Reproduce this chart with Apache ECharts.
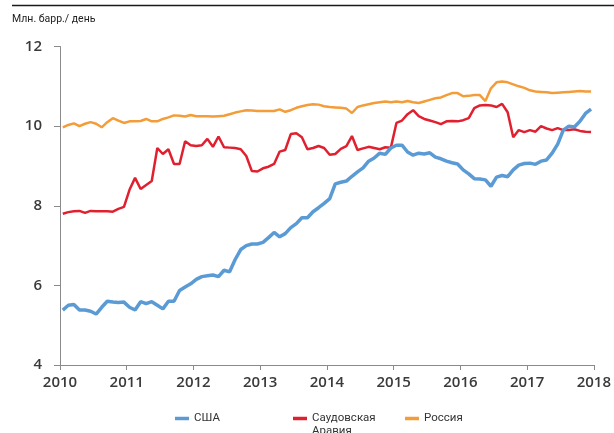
<!DOCTYPE html>
<html>
<head>
<meta charset="utf-8">
<script src="https://cdn.jsdelivr.net/npm/echarts@6/dist/echarts.min.js"></script>
<style>
  html, body { margin: 0; padding: 0; background: #fff; }
  #chart { width: 614px; height: 433px; }
</style>
</head>
<body>
<div id="chart"></div>
<script>
// monthly data, Jan 2010 - Dec 2017, mln barrels per day
const startYear = 2010;
const yearTicks = [2010, 2011, 2012, 2013, 2014, 2015, 2016, 2017, 2018];

const usa = [
  5.38, 5.50, 5.52, 5.38, 5.38, 5.35, 5.28, 5.45, 5.60, 5.58, 5.57, 5.58,
  5.45, 5.38, 5.59, 5.54, 5.59, 5.50, 5.41, 5.60, 5.60, 5.87, 5.96, 6.04,
  6.15, 6.22, 6.24, 6.26, 6.22, 6.38, 6.34, 6.65, 6.90, 7.00, 7.04, 7.04,
  7.08, 7.20, 7.33, 7.22, 7.30, 7.45, 7.55, 7.70, 7.70, 7.85, 7.95, 8.06,
  8.18, 8.55, 8.59, 8.62, 8.74, 8.85, 8.95, 9.12, 9.20, 9.32, 9.29, 9.45,
  9.52, 9.52, 9.35, 9.27, 9.32, 9.30, 9.33, 9.22, 9.18, 9.12, 9.08, 9.05,
  8.90, 8.80, 8.68, 8.67, 8.65, 8.49, 8.72, 8.76, 8.73, 8.90, 9.02, 9.06,
  9.07, 9.04, 9.12, 9.15, 9.32, 9.55, 9.90, 10.00, 9.98, 10.12, 10.32, 10.43
];

const saudi = [
  7.80, 7.84, 7.86, 7.87, 7.82, 7.87, 7.86, 7.86, 7.86, 7.85, 7.92, 7.97,
  8.40, 8.70, 8.42, 8.52, 8.62, 9.45, 9.30, 9.42, 9.05, 9.05, 9.62, 9.52,
  9.50, 9.52, 9.68, 9.48, 9.74, 9.47, 9.46, 9.45, 9.42, 9.25, 8.87, 8.86,
  8.94, 8.98, 9.05, 9.36, 9.40, 9.80, 9.82, 9.72, 9.42, 9.45, 9.50, 9.45,
  9.28, 9.30, 9.43, 9.50, 9.75, 9.40, 9.44, 9.48, 9.45, 9.42, 9.47, 9.46,
  10.08, 10.14, 10.30, 10.40, 10.25, 10.18, 10.14, 10.10, 10.05, 10.12, 10.13, 10.12,
  10.15, 10.20, 10.45, 10.52, 10.53, 10.52, 10.48, 10.56, 10.35, 9.72, 9.90, 9.85,
  9.90, 9.86, 10.00, 9.94, 9.90, 9.95, 9.90, 9.90, 9.92, 9.88, 9.86, 9.85
];

const russia = [
  9.97, 10.03, 10.07, 10.00, 10.06, 10.10, 10.06, 9.97, 10.10, 10.20, 10.14, 10.08,
  10.12, 10.12, 10.13, 10.18, 10.12, 10.12, 10.18, 10.22, 10.27, 10.26, 10.24, 10.28,
  10.25, 10.25, 10.25, 10.24, 10.25, 10.26, 10.30, 10.34, 10.37, 10.40, 10.39, 10.38,
  10.38, 10.38, 10.38, 10.42, 10.36, 10.40, 10.46, 10.50, 10.53, 10.55, 10.54, 10.50,
  10.48, 10.47, 10.46, 10.44, 10.33, 10.48, 10.52, 10.55, 10.58, 10.60, 10.62, 10.60,
  10.62, 10.60, 10.63, 10.60, 10.58, 10.62, 10.66, 10.70, 10.72, 10.78, 10.83, 10.83,
  10.75, 10.76, 10.78, 10.78, 10.63, 10.95, 11.10, 11.12, 11.10, 11.05, 11.00, 10.96,
  10.90, 10.87, 10.86, 10.85, 10.83, 10.84, 10.85, 10.86, 10.87, 10.88, 10.87, 10.87
];

const names = ['США', 'Саудовская Аравия', 'Россия'];
const colors = ['#5b9bd5', '#e0202f', '#f39c38'];

// place each monthly value in the middle of its month on the year axis
function toPoints(values) {
  return values.map(function (v, i) {
    return [startYear + (i + 0.5) / 12, v];
  });
}

const chart = echarts.init(document.getElementById('chart'));

const legendText = {
  fontFamily: 'Roboto',
  fontSize: 11.5,
  color: '#333',
  lineHeight: 13
};

function makeLegend(name, left, formatter) {
  return {
    data: [name],
    left: left,
    top: 412,
    padding: 0,
    icon: 'rect',
    itemWidth: 14,
    itemHeight: 3.5,
    formatter: formatter,
    textStyle: legendText
  };
}

const option = {
  animation: false,
  backgroundColor: '#fff',
  graphic: [
    {
      type: 'line',
      shape: { x1: 12, y1: 5.5, x2: 614, y2: 5.5 },
      style: { stroke: '#1a1a1a', lineWidth: 1.5 }
    },
    {
      type: 'text',
      left: 12,
      top: 14,
      style: {
        text: 'Млн. барр./ день',
        fontFamily: 'Roboto',
        fontSize: 10.5,
        fill: '#222'
      }
    },
    {
      // second line of the Saudi legend label, partly cut by the bottom edge
      type: 'text',
      left: 312,
      top: 425,
      style: {
        text: 'Аравия',
        fontFamily: 'Roboto',
        fontSize: 11.5,
        fill: '#333'
      }
    }
  ],
  grid: {
    left: 60,
    right: 18,
    top: 46.5,
    bottom: 68
  },
  legend: [
    makeLegend(names[0], 175),
    makeLegend(names[1], 293, function () { return 'Саудовская'; }),
    makeLegend(names[2], 405)
  ],
  xAxis: {
    type: 'value',
    min: yearTicks[0],
    max: yearTicks[yearTicks.length - 1],
    interval: 1,
    splitLine: { show: false },
    axisLine: { lineStyle: { color: '#8a8a8a', width: 1 } },
    axisTick: { show: true, length: 5, lineStyle: { color: '#8a8a8a' } },
    axisLabel: {
      fontFamily: 'Open Sans',
      fontWeight: 600,
      fontSize: 15,
      color: '#3a3a3a',
      margin: 10,
      formatter: function (v) { return String(v); }
    }
  },
  yAxis: {
    type: 'value',
    min: 4,
    max: 12,
    interval: 2,
    splitLine: { show: false },
    axisLine: { show: true, lineStyle: { color: '#8a8a8a', width: 1 } },
    axisTick: { show: true, length: 6, lineStyle: { color: '#8a8a8a' } },
    axisLabel: {
      fontFamily: 'Open Sans',
      fontWeight: 600,
      fontSize: 15,
      color: '#3a3a3a',
      margin: 18
    }
  },
  series: [
    {
      name: names[0],
      type: 'line',
      data: toPoints(usa),
      showSymbol: false,
      lineStyle: { width: 3.5, color: colors[0] },
      itemStyle: { color: colors[0] },
      z: 3
    },
    {
      name: names[1],
      type: 'line',
      data: toPoints(saudi),
      showSymbol: false,
      lineStyle: { width: 2.5, color: colors[1] },
      itemStyle: { color: colors[1] },
      z: 2
    },
    {
      name: names[2],
      type: 'line',
      data: toPoints(russia),
      showSymbol: false,
      lineStyle: { width: 2.5, color: colors[2] },
      itemStyle: { color: colors[2] },
      z: 1
    }
  ]
};

chart.setOption(option);
</script>
</body>
</html>
